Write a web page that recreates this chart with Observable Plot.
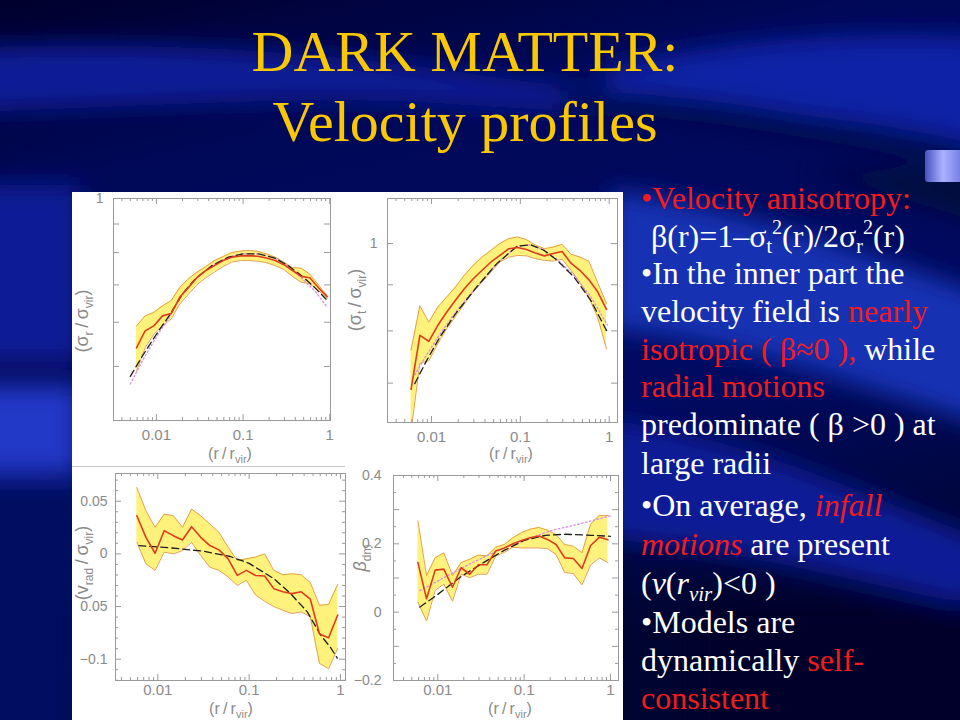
<!DOCTYPE html>
<html>
<head>
<meta charset="utf-8">
<script src="https://cdn.jsdelivr.net/npm/d3@7"></script>
<script src="https://cdn.jsdelivr.net/npm/@observablehq/plot@0.6"></script>
<style>
  html, body { margin: 0; padding: 0; background: #000; }
  #slide { position: relative; width: 960px; height: 720px; overflow: hidden; }
  .abs { position: absolute; }
</style>
</head>
<body>
<div id="slide">
  <svg class="abs" style="left:0;top:0" width="960" height="720">
    <defs>
      <linearGradient id="g0" x1="0" y1="0" x2="0.3" y2="1">
        <stop offset="0" stop-color="#00002c"/>
        <stop offset="0.25" stop-color="#000858"/>
        <stop offset="0.7" stop-color="#000a60"/>
        <stop offset="1" stop-color="#000430"/>
      </linearGradient>
      <filter id="bl" x="-30%" y="-30%" width="160%" height="160%"><feGaussianBlur stdDeviation="12"/></filter>
      <linearGradient id="tab" x1="0" x2="1" y1="0" y2="0">
        <stop offset="0" stop-color="#4850c0"/>
        <stop offset="0.45" stop-color="#aab2ff"/>
        <stop offset="1" stop-color="#6a72dc"/>
      </linearGradient>
    </defs>
    <rect width="960" height="720" fill="url(#g0)"/>
    <g filter="url(#bl)">
      <path d="M-40,48 C150,40 320,52 460,72 C560,88 640,92 720,86 L720,108 C620,118 520,108 420,102 C270,96 120,108 -40,112 Z" fill="#0c1c96"/>
      <path d="M600,70 C700,45 830,28 1000,38 L1000,150 C880,120 760,108 620,104 Z" fill="#0b20a6"/>
      <path d="M560,92 C700,90 820,120 1000,150 L1000,170 C820,140 700,112 560,108 Z" fill="#000844"/>
      <path d="M610,190 C760,210 880,260 1000,300 L1000,430 C870,390 740,340 610,330 Z" fill="#1732b2"/>
      <path d="M800,170 C880,190 940,210 1000,230 L1000,170 Z" fill="#000a3c"/>
      <path d="M610,420 C760,440 870,500 1000,545 L1000,610 C860,585 730,545 610,540 Z" fill="#0d1d96"/>
      <path d="M700,600 L1000,600 L1000,760 L700,760 Z" fill="#00042a"/>
      <rect x="-30" y="185" width="110" height="175" fill="#0d1a96"/>
      <rect x="-30" y="385" width="110" height="90" fill="#2038c6"/>
      <rect x="-30" y="490" width="110" height="260" fill="#040f60"/>
    </g>
    <rect x="925" y="150" width="40" height="32" rx="3" fill="url(#tab)"/>
  </svg>

  <div class="abs" style="left:72px;top:192px;width:551px;height:528px;background:#fff"></div>
  <div class="abs" style="left:72px;top:466px;width:273px;height:1px;background:#c4c4c4"></div>

  <div id="p1" class="abs" style="left:72px;top:192px"></div>
  <div id="p2" class="abs" style="left:345px;top:192px"></div>
  <div id="p3" class="abs" style="left:72px;top:465px"></div>
  <div id="p4" class="abs" style="left:350px;top:465px"></div>

  <svg class="abs" style="left:0;top:0;pointer-events:none" width="960" height="720" font-family="'Liberation Serif', 'Times New Roman', serif">
    <text x="465" y="71" text-anchor="middle" font-size="58" fill="#f9c800">DARK MATTER:</text>
    <text x="465" y="141" text-anchor="middle" font-size="58" fill="#f9c800">Velocity profiles</text>
    <g font-size="32" fill="#ffffff">
      <text x="641" y="209" fill="#f21c1c">•Velocity anisotropy:</text>
      <text x="651" y="247">β(r)=1–σ<tspan font-size="20" dy="6">t</tspan><tspan font-size="20" dy="-19">2</tspan><tspan dy="13">(r)/2σ</tspan><tspan font-size="20" dy="6">r</tspan><tspan font-size="20" dy="-19">2</tspan><tspan dy="13">(r)</tspan></text>
      <text x="641" y="284">•In the inner part the</text>
      <text x="641" y="322">velocity field is <tspan fill="#f21c1c">nearly</tspan></text>
      <text x="641" y="360"><tspan fill="#f21c1c">isotropic ( β≈0 ),</tspan> while</text>
      <text x="641" y="397" fill="#f21c1c">radial motions</text>
      <text x="641" y="435">predominate ( β &gt;0 ) at</text>
      <text x="641" y="474">large radii</text>
      <text x="641" y="516">•On average, <tspan fill="#f21c1c" font-style="italic">infall</tspan></text>
      <text x="641" y="555"><tspan fill="#f21c1c" font-style="italic">motions</tspan> are present</text>
      <text x="641" y="594">(<tspan font-style="italic">v</tspan>(<tspan font-style="italic">r</tspan><tspan font-style="italic" font-size="21" dy="7">vir</tspan><tspan dy="-7">)&lt;0 )</tspan></text>
      <text x="641" y="633">•Models are</text>
      <text x="641" y="671">dynamically <tspan fill="#f21c1c">self-</tspan></text>
      <text x="641" y="709" fill="#f21c1c">consistent</text>
    </g>
  </svg>
</div>

<script>
// ---------- data ----------
// radial bins r / r_vir (common to all four panels)
const R = [0.00589, 0.00741, 0.00933, 0.01175, 0.01479, 0.01862, 0.02344, 0.02951, 0.03715, 0.04677,
           0.05888, 0.07413, 0.09333, 0.1175, 0.1479, 0.1862, 0.2344, 0.2951, 0.3715, 0.4677,
           0.5888, 0.7413, 0.9333];

// panel 1: sigma_r / sigma_vir
const srMean = [0.540, 0.579, 0.591, 0.616, 0.622, 0.665, 0.693, 0.722, 0.743, 0.758, 0.774, 0.785, 0.789, 0.790, 0.788, 0.782, 0.774, 0.761, 0.743, 0.725, 0.721, 0.692, 0.667];
const srHi   = [0.591, 0.616, 0.625, 0.642, 0.656, 0.693, 0.718, 0.738, 0.755, 0.774, 0.787, 0.800, 0.805, 0.807, 0.804, 0.796, 0.785, 0.769, 0.752, 0.750, 0.732, 0.700, 0.669];
const srLo   = [0.490, 0.540, 0.571, 0.591, 0.608, 0.647, 0.674, 0.701, 0.721, 0.738, 0.755, 0.769, 0.774, 0.774, 0.772, 0.767, 0.758, 0.746, 0.725, 0.708, 0.703, 0.684, 0.663];
const srModelR = [0.0050, 0.0069, 0.0100, 0.0140, 0.0199, 0.0282, 0.0438, 0.0679, 0.1009, 0.150, 0.2325, 0.330, 0.470, 0.667, 0.908];
const srModel  = [0.480, 0.522, 0.571, 0.616, 0.674, 0.718, 0.758, 0.785, 0.796, 0.796, 0.782, 0.758, 0.728, 0.693, 0.660];
const srModel2 = [0.465, 0.512, 0.565, 0.612, 0.672, 0.717, 0.758, 0.785, 0.796, 0.796, 0.782, 0.757, 0.721, 0.684, 0.642];

// panel 2: sigma_t / sigma_vir
const stMean = [0.689, 0.791, 0.779, 0.811, 0.839, 0.865, 0.891, 0.914, 0.934, 0.954, 0.970, 0.987, 0.990, 0.985, 0.976, 0.969, 0.975, 0.980, 0.951, 0.934, 0.912, 0.884, 0.845];
const stHi   = [0.762, 0.853, 0.818, 0.850, 0.872, 0.895, 0.922, 0.946, 0.966, 0.983, 1.000, 1.013, 1.017, 1.010, 0.996, 0.987, 0.991, 0.998, 0.973, 0.966, 0.956, 0.905, 0.858];
const stLo   = [0.619, 0.737, 0.741, 0.774, 0.804, 0.830, 0.857, 0.884, 0.906, 0.930, 0.954, 0.966, 0.970, 0.969, 0.962, 0.958, 0.956, 0.961, 0.934, 0.906, 0.872, 0.828, 0.764];
const stModelR = [0.00648, 0.00878, 0.0124, 0.0192, 0.0323, 0.0544, 0.0916, 0.130, 0.184, 0.260, 0.402, 0.620, 0.957];
const stModel  = [0.699, 0.741, 0.787, 0.839, 0.895, 0.950, 0.993, 0.997, 0.983, 0.958, 0.918, 0.865, 0.797];
const stModel2 = [0.715, 0.752, 0.793, 0.842, 0.896, 0.950, 0.993, 0.997, 0.984, 0.960, 0.922, 0.873, 0.812];

// panel 3: v_rad / sigma_vir
const vrMean = [0.0362, 0.0157, 0.0006, 0.0220, 0.0173, 0.0132, 0.0258, 0.0157, 0.0079, 0.0038, -0.0047, -0.0204, -0.0157, -0.0205, -0.0210, -0.0330, -0.0360, -0.0377, -0.0360, -0.0430, -0.0760, -0.0796, -0.0580];
const vrHi   = [0.0629, 0.0409, 0.0252, 0.0377, 0.0362, 0.0252, 0.0425, 0.0362, 0.0283, 0.0204, 0.0063, -0.0063, -0.0047, -0.0030, 0.0000, -0.0157, -0.0198, -0.0189, -0.0198, -0.0273, -0.0487, -0.0480, -0.0290];
const vrLo   = [0.0110, -0.0094, -0.0157, 0.0016, 0.0000, 0.0031, 0.0110, -0.0016, -0.0126, -0.0157, -0.0220, -0.0299, -0.0252, -0.0390, -0.0450, -0.0500, -0.0535, -0.0566, -0.0550, -0.0597, -0.1040, -0.1090, -0.0896];
const vrModelR = [0.0062, 0.0137, 0.0318, 0.062, 0.100, 0.187, 0.284, 0.433, 0.605, 0.780, 0.923];
const vrModel  = [0.0079, 0.0057, 0.0025, -0.0025, -0.0090, -0.0236, -0.0377, -0.0550, -0.0770, -0.0890, -0.0990];

// panel 4: beta_dm
const bMean = [0.145, 0.039, 0.123, 0.126, 0.073, 0.130, 0.111, 0.139, 0.139, 0.179, 0.188, 0.200, 0.210, 0.218, 0.223, 0.213, 0.198, 0.159, 0.157, 0.128, 0.195, 0.219, 0.212];
const bHi   = [0.267, 0.107, 0.159, 0.174, 0.107, 0.145, 0.155, 0.167, 0.165, 0.190, 0.198, 0.218, 0.233, 0.243, 0.248, 0.240, 0.227, 0.198, 0.193, 0.174, 0.258, 0.283, 0.283];
const bLo   = [0.029, -0.026, 0.064, 0.082, 0.032, 0.111, 0.101, 0.111, 0.111, 0.164, 0.175, 0.190, 0.188, 0.188, 0.188, 0.186, 0.169, 0.116, 0.113, 0.080, 0.138, 0.159, 0.145];
const bModelR = [0.0062, 0.0100, 0.0183, 0.0338, 0.058, 0.100, 0.177, 0.300, 0.600, 1.000];
const bModel  = [0.015, 0.052, 0.103, 0.145, 0.180, 0.210, 0.225, 0.228, 0.225, 0.222];
const bModel2R = [0.0062, 0.0126, 0.025, 0.050, 0.100, 0.200, 0.500, 1.000];
const bModel2  = [0.063, 0.105, 0.145, 0.180, 0.210, 0.238, 0.262, 0.282];

// tick labels
const X_TICKS = [0.01, 0.1, 1];
const X_LABELS = ["0.01", "0.1", "1"];
const Y1_TICKS = [1];      const Y1_LABELS = ["1"];
const Y2_TICKS = [1];      const Y2_LABELS = ["1"];
const Y3_TICKS = [0.05, 0, -0.05, -0.1]; const Y3_LABELS = ["0.05", "0", "0.05", "\u22120.1"];
const Y4_TICKS = [0.4, 0.2, 0, -0.2];    const Y4_LABELS = ["0.4", "0.2", "0", "\u22120.2"];

// ---------- helpers ----------
function logTicks([a, b]) {
  const major = [], minor = [];
  for (let e = -4; e <= 1; e++) for (let k = 1; k <= 9; k++) {
    const v = +(k * Math.pow(10, e)).toPrecision(6);
    if (v < a || v > b) continue;
    (k === 1 ? major : minor).push(v);
  }
  return {major, minor};
}

function addLabel(svg, x, y, parts, rotate, size) {
  const fs = size || 16, ss = Math.round(fs * 0.68), sh = Math.round(fs * 0.28);
  const t = d3.select(svg).append("text")
    .attr("transform", `translate(${x},${y}) rotate(${rotate || 0})`)
    .attr("text-anchor", "middle")
    .attr("font-size", fs)
    .attr("fill", "#8a8a8a")
    .attr("font-family", "'Liberation Sans', Arial, sans-serif");
  let sub = false;
  for (const p of parts) {
    const s = t.append("tspan").text(p.t);
    if (p.italic) s.attr("font-style", "italic");
    if (p.sub && !sub) { s.attr("font-size", ss).attr("dy", sh); sub = true; }
    else if (p.sub) { s.attr("font-size", ss); }
    else if (sub) { s.attr("dy", -sh); sub = false; }
  }
}

function panel(c) {
  const ph = c.height - c.mt - c.mb, pw = c.width - c.ml - c.mr;
  const rows = R.map((x, i) => ({x, m: c.mean[i], hi: c.hi[i], lo: c.lo[i]}));
  const mrows = c.modelR.map((x, i) => ({x, y: c.model[i]}));
  const prows = c.model2R ? c.model2R.map((x, i) => ({x, y: c.model2[i]})) : [];
  const xt = logTicks(c.xDomain);
  const tk = "#9a9a9a";
  const marks = [
    Plot.areaY(rows, {x: "x", y1: "lo", y2: "hi", fill: "#fff27c", clip: true}),
    Plot.line(rows, {x: "x", y: "hi", stroke: "#e6a04a", strokeWidth: 1, clip: true}),
    Plot.line(rows, {x: "x", y: "lo", stroke: "#e6a04a", strokeWidth: 1, clip: true}),
    Plot.line(prows, {x: "x", y: "y", stroke: "#d98ae6", strokeWidth: 1.3, strokeDasharray: "1.5,2.5", clip: true}),
    Plot.line(mrows, {x: "x", y: "y", stroke: "#1e1e1e", strokeWidth: 1.3, strokeDasharray: "7,4", clip: true}),
    Plot.line(rows, {x: "x", y: "m", stroke: "#dd3d1c", strokeWidth: 1.6, clip: true}),
    Plot.frame({stroke: tk}),
    Plot.tickX(xt.major, {x: d => d, stroke: tk, insetTop: ph - 6}),
    Plot.tickX(xt.major, {x: d => d, stroke: tk, insetBottom: ph - 6}),
    Plot.tickX(xt.minor, {x: d => d, stroke: tk, insetTop: ph - 3}),
    Plot.tickX(xt.minor, {x: d => d, stroke: tk, insetBottom: ph - 3}),
    Plot.tickY(c.yMajor, {y: d => d, stroke: tk, insetRight: pw - 6}),
    Plot.tickY(c.yMajor, {y: d => d, stroke: tk, insetLeft: pw - 6}),
    Plot.tickY(c.yMinor, {y: d => d, stroke: tk, insetRight: pw - 3}),
    Plot.tickY(c.yMinor, {y: d => d, stroke: tk, insetLeft: pw - 3}),
    Plot.axisX({ticks: X_TICKS, tickFormat: d => X_LABELS[X_TICKS.indexOf(d)], tickSize: 0, tickPadding: c.xPad, fontSize: 15, label: null}),
    Plot.axisY({anchor: "left", ticks: c.yTicks, tickFormat: d => c.yLabels[c.yTicks.indexOf(d)], tickSize: 0, tickPadding: c.yPad, fontSize: 14, label: null})
  ];
  const svg = Plot.plot({
    width: c.width, height: c.height,
    marginTop: c.mt, marginRight: c.mr, marginBottom: c.mb, marginLeft: c.ml,
    x: {type: "log", domain: c.xDomain},
    y: {type: c.yType, domain: c.yDomain},
    style: {background: "transparent", color: "#8a8a8a", fontFamily: "'Liberation Sans', Arial, sans-serif", overflow: "visible"},
    marks
  });
  addLabel(svg, c.xl[0], c.xl[1], [{t: "(r\u2009/\u2009r"}, {t: "vir", sub: true}, {t: ")"}], 0, 16);
  addLabel(svg, c.yl[0], c.yl[1], c.yParts, -90, c.ySize || 18);
  document.getElementById(c.id).appendChild(svg);
}

panel({
  id: "p1", width: 270, height: 275, mt: 6, mr: 12, mb: 47, ml: 41,
  xDomain: [0.0032, 1.02], yType: "log", yDomain: [0.4, 1.0],
  mean: srMean, hi: srHi, lo: srLo,
  modelR: srModelR, model: srModel, model2R: srModelR, model2: srModel2,
  yMajor: [0.4, 0.5, 0.6, 0.7, 0.8, 0.9, 1.0], yMinor: [],
  yTicks: Y1_TICKS, yLabels: Y1_LABELS, yPad: 10, xPad: 9,
  xl: [158, 267], yl: [16, 129],
  yParts: [{t: "(σ"}, {t: "r", sub: true}, {t: "\u2009/\u2009σ"}, {t: "vir", sub: true}, {t: ")"}]
});

panel({
  id: "p2", width: 278, height: 275, mt: 6, mr: 6, mb: 45, ml: 42,
  xDomain: [0.0032, 1.24], yType: "log", yDomain: [0.633, 1.122],
  mean: stMean, hi: stHi, lo: stLo,
  modelR: stModelR, model: stModel, model2R: stModelR, model2: stModel2,
  yMajor: [0.7, 0.8, 0.9, 1.0], yMinor: [],
  yTicks: Y2_TICKS, yLabels: Y2_LABELS, yPad: 10, xPad: 9,
  xl: [166, 267], yl: [16, 108],
  yParts: [{t: "(σ"}, {t: "t", sub: true}, {t: "\u2009/\u2009σ"}, {t: "vir", sub: true}, {t: ")"}]
});

panel({
  id: "p3", width: 278, height: 255, mt: 8, mr: 5, mb: 40, ml: 43,
  xDomain: [0.00344, 1.135], yType: "linear", yDomain: [-0.1202, 0.0763],
  mean: vrMean, hi: vrHi, lo: vrLo,
  modelR: vrModelR, model: vrModel,
  yMajor: [0.05, 0, -0.05, -0.1],
  yMinor: [0.07, 0.06, 0.04, 0.03, 0.02, 0.01, -0.01, -0.02, -0.03, -0.04, -0.06, -0.07, -0.08, -0.09, -0.11, -0.12],
  yTicks: Y3_TICKS, yLabels: Y3_LABELS, yPad: 8, xPad: 4,
  xl: [159, 249], yl: [16, 98],
  yParts: [{t: "(v"}, {t: "rad", sub: true}, {t: "\u2009/\u2009σ"}, {t: "vir", sub: true}, {t: ")"}]
});

panel({
  id: "p4", width: 273, height: 255, mt: 10, mr: 5, mb: 40, ml: 43,
  xDomain: [0.00307, 1.238], yType: "linear", yDomain: [-0.2, 0.4],
  mean: bMean, hi: bHi, lo: bLo,
  modelR: bModelR, model: bModel, model2R: bModel2R, model2: bModel2,
  yMajor: [0.4, 0.3, 0.2, 0.1, 0, -0.1, -0.2],
  yMinor: [0.35, 0.25, 0.15, 0.05, -0.05, -0.15],
  yTicks: Y4_TICKS, yLabels: Y4_LABELS, yPad: 12, xPad: 4,
  xl: [160, 249], yl: [16, 93], ySize: 18,
  yParts: [{t: "β", italic: true}, {t: "dm", sub: true}]
});
</script>
</body>
</html>
